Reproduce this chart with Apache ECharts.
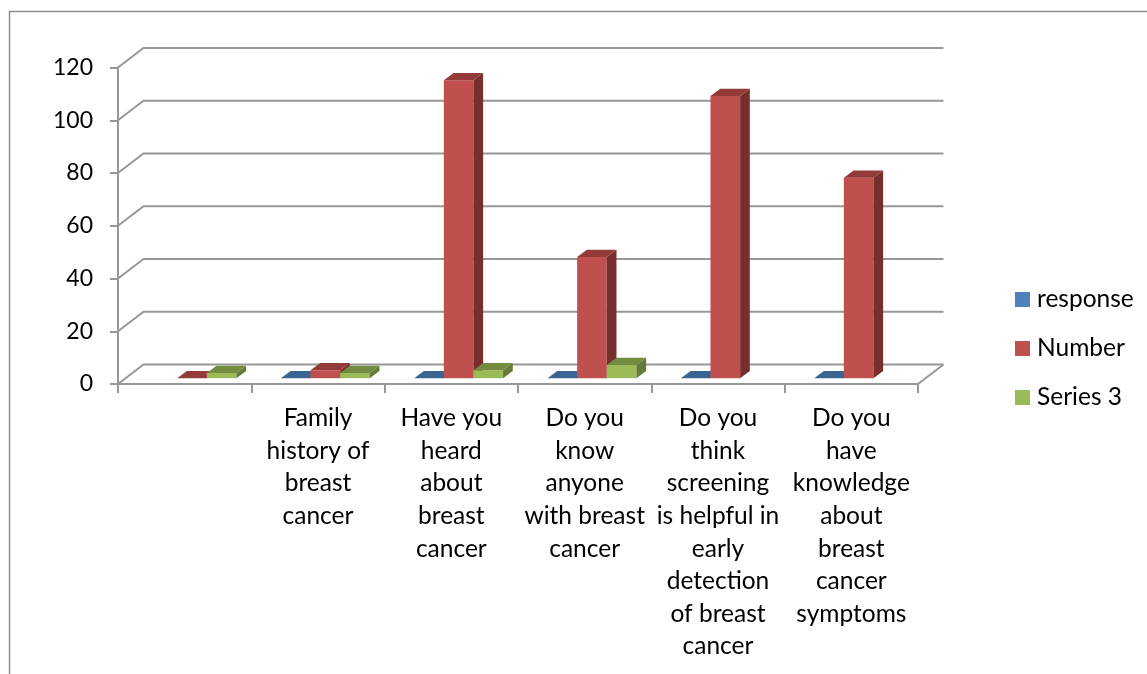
<!DOCTYPE html>
<html>
<head>
<meta charset="utf-8">
<style>html,body{margin:0;padding:0;background:#fff}#c{width:1147px;height:674px}</style>
<script src="https://cdn.jsdelivr.net/npm/echarts@6/dist/echarts.min.js"></script>
</head>
<body>
<div id="c"></div>
<script>
const categories = ['', 'Family\nhistory of\nbreast\ncancer', 'Have you\nheard\nabout\nbreast\ncancer', 'Do you\nknow\nanyone\nwith breast\ncancer', 'Do you\nthink\nscreening\nis helpful in\nearly\ndetection\nof breast\ncancer', 'Do you\nhave\nknowledge\nabout\nbreast\ncancer\nsymptoms'];
const response = [null, 0, 0, 0, 0, 0];
const number = [0, 3, 113, 46, 107, 76];
const series3 = [2, 2, 3, 5, null, null];
const yTicks = [0, 20, 40, 60, 80, 100, 120];

const FONT = 'Lato';
const LINE = '#979797';
const wallDx = 25.5, wallDy = 19.5;
const barDx = 9.7, barDy = 7.2, floorLift = 5.8;

function pointsToPath(pts){ return {points: pts}; }

function barRender(slot, front, top, side) {
  return function (params, api) {
    const v = api.value(1);
    if (v === null || isNaN(v)) return;
    const c = api.coord([api.value(0), v]);
    const b = api.coord([api.value(0), 0]);
    const w = api.size([1, 0])[0] * 0.2222;
    const x0 = c[0] + 7.3 + (slot - 1.5) * w;
    const x1 = x0 + w;
    const yb = b[1] - floorLift;
    const yt = c[1] - floorLift;
    const children = [];
    if (v > 0) {
      children.push({type: 'polygon', shape: pointsToPath([[x0, yt], [x1, yt], [x1, yb], [x0, yb]]), style: {fill: front}});
      children.push({type: 'polygon', shape: pointsToPath([[x1, yt], [x1 + barDx, yt - barDy], [x1 + barDx, yb - barDy], [x1, yb]]), style: {fill: side}});
    }
    children.push({type: 'polygon', shape: pointsToPath([[x0, yt], [x1, yt], [x1 + barDx, yt - barDy], [x0 + barDx, yt - barDy]]), style: {fill: top}});
    return {type: 'group', children};
  };
}

function wallRender(params, api) {
  const v = api.value(0);
  const cs = params.coordSys;
  const y = api.coord([0, v])[1];
  const left = cs.x, right = cs.x + cs.width;
  const children = [{
    type: 'polyline',
    shape: {points: [[left, y], [left + wallDx, y - wallDy], [right + wallDx, y - wallDy]]},
    style: {fill: null, stroke: LINE, lineWidth: 2}
  }];
  if (v === 0) {
    children.push({type: 'line', shape: {x1: right, y1: y, x2: right + wallDx, y2: y - wallDy},
      style: {stroke: LINE, lineWidth: 2}});
  }
  return {type: 'group', children};
}

const toData = arr => arr.map((v, i) => [i, v]);

const chart = echarts.init(document.getElementById('c'), null, {renderer: 'canvas'});
chart.setOption({
  animation: false,
  backgroundColor: '#fff',
  grid: {left: 118, right: 229, top: 67.5, bottom: 290},
  xAxis: {
    type: 'category',
    data: categories,
    axisLine: {lineStyle: {color: LINE, width: 2}},
    axisTick: {show: true, length: 9, interval: 0, alignWithLabel: false, lineStyle: {color: LINE, width: 2}},
    axisLabel: {interval: 0, margin: 18, color: '#000', fontFamily: FONT, fontSize: 24.5, lineHeight: 32.6, align: 'center', verticalAlign: 'top'}
  },
  yAxis: {
    type: 'value', min: 0, max: 120, interval: 20,
    axisLine: {show: true, lineStyle: {color: LINE, width: 2}},
    axisTick: {show: true, length: 8, lineStyle: {color: LINE, width: 2}},
    axisLabel: {margin: 25, color: '#000', fontFamily: FONT, fontSize: 23},
    splitLine: {show: false}
  },
  legend: {
    orient: 'vertical', left: 1015, top: 287, padding: 0, itemWidth: 15, itemHeight: 15, itemGap: 24,
    icon: 'rect', selectedMode: false,
    textStyle: {color: '#000', fontFamily: FONT, fontSize: 24.5, lineHeight: 24, padding: [0, 0, 0, 2]},
    data: ['response', 'Number', 'Series 3']
  },
  graphic: [{
    type: 'polyline', silent: true,
    shape: {points: [[9.5, 674], [9.5, 11.5], [1147, 11.5]]},
    style: {fill: null, stroke: '#8e8e8e', lineWidth: 1.5}
  }],
  series: [
    {type: 'custom', name: 'wall', data: yTicks.map(v => [v]), encode: {y: 0}, renderItem: wallRender, z: 1, silent: true},
    {type: 'custom', name: 'response', data: toData(response), encode: {x: 0, y: 1}, itemStyle: {color: '#4F81BD'}, renderItem: barRender(0, '#4F81BD', '#3A6492', '#2F5078'), z: 3},
    {type: 'custom', name: 'Number', data: toData(number), encode: {x: 0, y: 1}, itemStyle: {color: '#C0504D'}, renderItem: barRender(1, '#C0504D', '#923B38', '#772F2D'), z: 4},
    {type: 'custom', name: 'Series 3', data: toData(series3), encode: {x: 0, y: 1}, itemStyle: {color: '#9BBB59'}, renderItem: barRender(2, '#9BBB59', '#738C42', '#657B39'), z: 5}
  ]
});
</script>
</body>
</html>
